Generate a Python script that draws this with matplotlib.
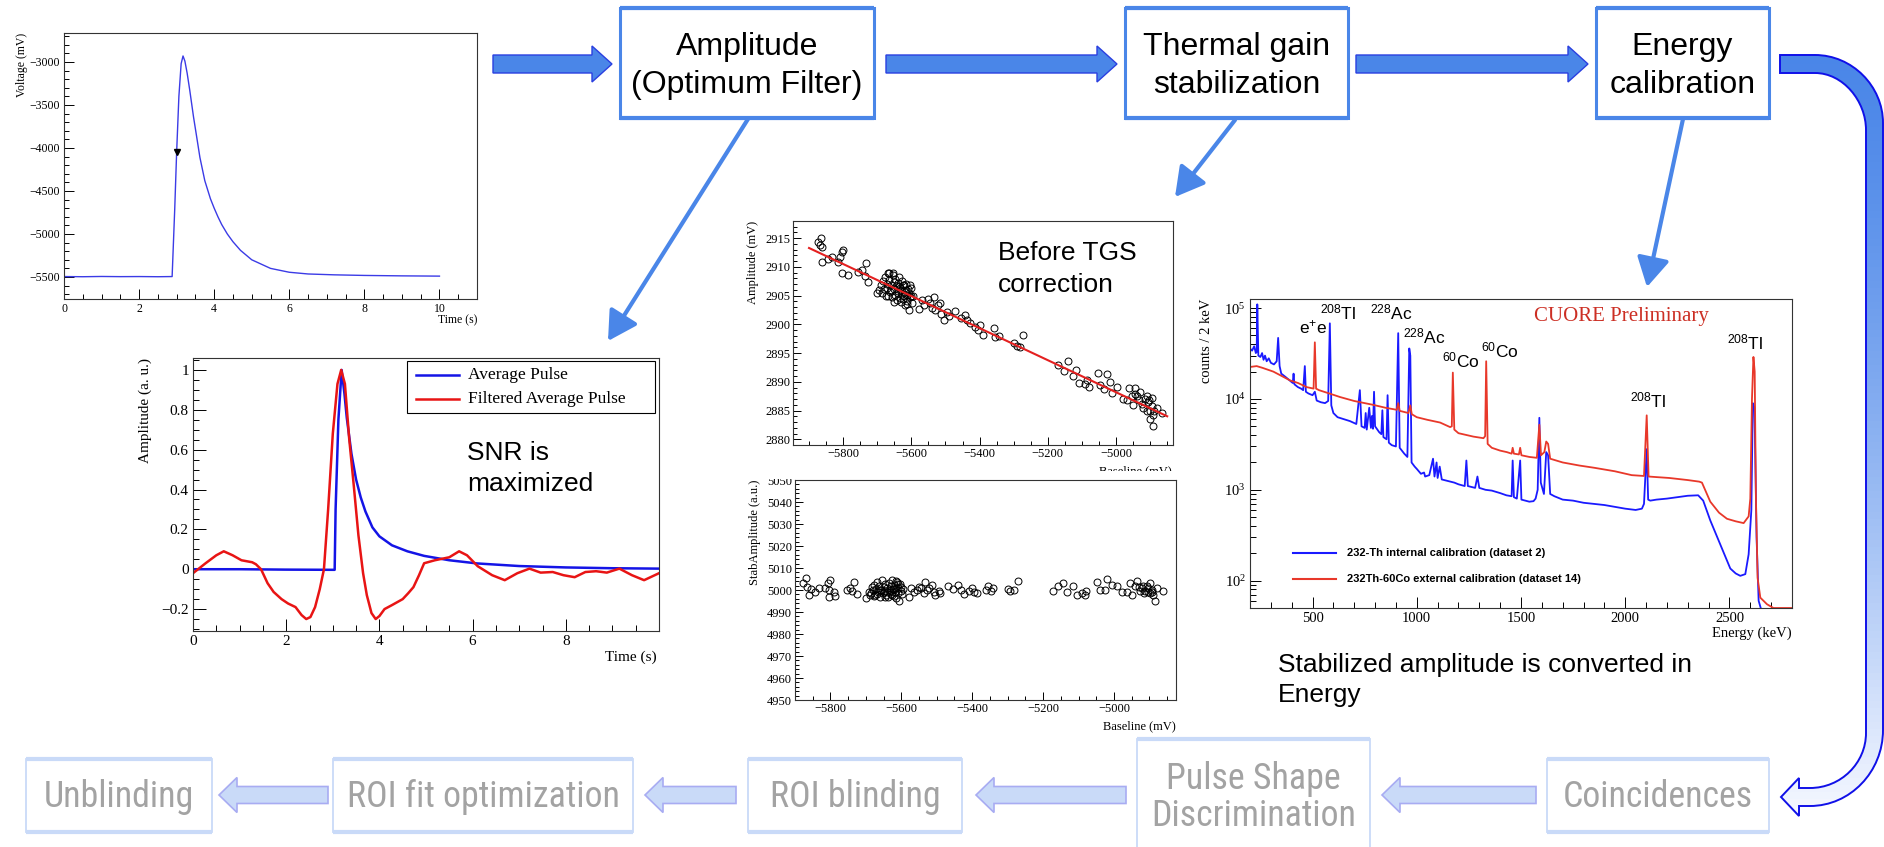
import numpy as np
import matplotlib
matplotlib.use("Agg")
import matplotlib.pyplot as plt
from matplotlib import font_manager
from matplotlib.font_manager import FontProperties
from matplotlib.textpath import TextPath
from matplotlib.patches import Rectangle, Polygon, PathPatch
from matplotlib.path import Path
from matplotlib.ticker import MultipleLocator, FuncFormatter, NullFormatter, LogLocator

# ---------------- data ----------------
top_steps = ["Amplitude\n(Optimum Filter)", "Thermal gain\nstabilization", "Energy\ncalibration"]
bottom_steps = ["Unblinding", "ROI fit optimization", "ROI blinding",
                "Pulse Shape\nDiscrimination", "Coincidences"]

# raw pulse (top left)
pulse_t = [0, 0.5, 1, 1.5, 2, 2.5, 2.88, 2.95, 3.0, 3.06, 3.12, 3.17, 3.22, 3.28, 3.35, 3.45,
           3.53, 3.62, 3.75, 3.9, 4.0, 4.1, 4.2, 4.35, 4.5, 4.7, 5.0, 5.5, 6.0, 6.5, 7.2, 8.0,
           9.0, 10.0]
pulse_v = [-5495, -5497, -5494, -5496, -5495, -5497, -5495, -4700, -4050, -3400, -3020, -2930,
           -2990, -3130, -3330, -3640, -3860, -4110, -4380, -4590, -4700, -4800, -4890, -5000,
           -5090, -5190, -5300, -5400, -5445, -5465, -5475, -5482, -5487, -5490]
trigger_t = [3.0]
trigger_v = [-4050]

# average pulse and filtered average pulse
avg_t = [0, 1, 2, 3.04, 3.06, 3.12, 3.19, 3.25, 3.3, 3.4, 3.5, 3.6, 3.7, 3.85, 4.0, 4.27,
         4.6, 4.96, 5.5, 6.1, 7.0, 8.0, 9.0, 10.0]
avg_a = [0, 0, -0.002, -0.003, 0.3, 0.75, 1.0, 0.88, 0.76, 0.58, 0.45, 0.36, 0.29, 0.21,
         0.165, 0.12, 0.09, 0.067, 0.045, 0.029, 0.016, 0.009, 0.005, 0.003]
filt_t = [0, 0.27, 0.5, 0.66, 0.85, 1.04, 1.27, 1.35, 1.46, 1.6, 1.73, 1.9, 2.04, 2.2, 2.33,
          2.43, 2.52, 2.62, 2.72, 2.81, 2.9, 3.0, 3.1, 3.18, 3.26, 3.35, 3.45, 3.55, 3.65,
          3.73, 3.83, 3.92, 4.0, 4.11, 4.27, 4.5, 4.62, 4.73, 4.85, 4.96, 5.19, 5.5, 5.71,
          5.88, 6.11, 6.42, 6.69, 6.96, 7.22, 7.46, 7.72, 7.95, 8.19, 8.42, 8.65, 8.88,
          9.15, 9.42, 9.68, 10.0]
filt_a = [-0.02, 0.03, 0.07, 0.09, 0.07, 0.045, 0.035, 0.025, 0.0, -0.07, -0.114, -0.15,
          -0.172, -0.19, -0.23, -0.25, -0.24, -0.19, -0.1, 0.0, 0.3, 0.68, 0.93, 1.0, 0.93,
          0.66, 0.42, 0.17, -0.02, -0.13, -0.22, -0.25, -0.235, -0.2, -0.18, -0.15, -0.12,
          -0.09, -0.03, 0.03, 0.045, 0.06, 0.09, 0.07, 0.015, -0.03, -0.055, -0.02, 0.003,
          -0.017, -0.014, -0.03, -0.04, -0.014, -0.01, -0.017, 0.003, -0.03, -0.055, -0.02]

# amplitude vs baseline before TGS
tgs_base = [-5875, -5869, -5864, -5862, -5861, -5843, -5833, -5814, -5809, -5804, -5799, -5804,
            -5786, -5755, -5745, -5737, -5733, -5726, -5701,
            -5695, -5690, -5686, -5683, -5680, -5677, -5675, -5672, -5670, -5667, -5665, -5662,
            -5660, -5657, -5655, -5652, -5650, -5648, -5645, -5643, -5640, -5638, -5636, -5634,
            -5632, -5630, -5628, -5626, -5624, -5622, -5620, -5618, -5616, -5614, -5612, -5610,
            -5608, -5606, -5604, -5602, -5600, -5597, -5594, -5640, -5630, -5622, -5615, -5660,
            -5648, -5635, -5625, -5612, -5605, -5668, -5652, -5669, -5654,
            -5579, -5569, -5562, -5552, -5545, -5535, -5540, -5530, -5521, -5516, -5513, -5503,
            -5496, -5491, -5472, -5454, -5442, -5438, -5428, -5413, -5405, -5399, -5389, -5359,
            -5355, -5343, -5298, -5291, -5281, -5272,
            -5169, -5154, -5140, -5127, -5117, -5108, -5091, -5084, -5078, -5052, -5047, -5035,
            -5026, -5018, -5013, -4998, -4980, -4969, -4961, -4954, -4951, -4944, -4938, -4932,
            -4925, -4920, -4910, -4905, -4900, -4900, -4896, -4891, -4889, -4881, -4866, -4915,
            -4908, -4902, -4895, -4893, -4930, -4945]
tgs_amp = [2914.4, 2913.8, 2915.1, 2913.4, 2910.9, 2911.3, 2911.8, 2910.9, 2911.8, 2912.6,
           2912.9, 2909.0, 2908.6, 2909.2, 2909.5, 2908.4, 2910.7, 2907.3, 2905.4,
           2906.0, 2906.8, 2905.4, 2907.6, 2906.2, 2908.2, 2905.0, 2907.1, 2906.4, 2909.0,
           2907.8, 2905.6, 2906.9, 2904.8, 2908.6, 2906.1, 2907.4, 2905.2, 2906.6, 2904.3,
           2907.2, 2905.8, 2908.2, 2904.6, 2906.3, 2903.9, 2907.6, 2905.3, 2904.5, 2906.8,
           2903.4, 2905.7, 2907.0, 2904.1, 2905.1, 2906.2, 2902.5, 2905.4, 2904.7, 2906.4,
           2905.0, 2903.8, 2904.9, 2905.4, 2905.9, 2905.0, 2906.0, 2905.9, 2907.9, 2906.6,
           2906.8, 2903.6, 2906.9, 2904.9, 2903.9, 2909.0, 2909.0,
           2902.6, 2904.3, 2903.4, 2904.5, 2903.7, 2904.8, 2902.8, 2902.5, 2903.4, 2903.8,
           2901.8, 2900.8, 2902.2, 2901.4, 2902.4, 2901.1, 2901.7, 2900.8, 2900.2, 2899.6,
           2899.1, 2899.9, 2898.2, 2899.3, 2897.8, 2898.0, 2896.7, 2896.2, 2896.1, 2898.2,
           2893.0, 2891.8, 2893.7, 2891.0, 2892.1, 2889.8, 2889.7, 2890.3, 2889.1, 2891.6,
           2889.5, 2888.8, 2891.4, 2889.9, 2888.1, 2889.1, 2887.0, 2886.9, 2889.0, 2887.5,
           2885.9, 2889.0, 2887.6, 2886.9, 2886.1, 2885.5, 2887.5, 2886.4, 2884.9, 2883.5,
           2885.8, 2882.3, 2884.9, 2885.5, 2884.5, 2887.0, 2885.0, 2886.8, 2887.2, 2884.2,
           2888.2, 2887.8]
fit_base = [-5900, -4850]
fit_amp = [2913.3, 2884.0]

# stabilized amplitude vs baseline
stab_base = [-5878, -5868, -5866, -5861, -5856, -5844, -5833, -5814, -5807, -5800, -5805, -5803,
             -5791, -5788, -5753, -5746, -5739, -5734, -5725, -5701, -5692, -5687,
             -5685, -5682, -5679, -5676, -5674, -5671, -5668, -5665, -5662, -5660, -5657, -5655,
             -5652, -5650, -5647, -5645, -5642, -5640, -5637, -5635, -5632, -5630, -5628, -5626,
             -5624, -5622, -5620, -5618, -5616, -5614, -5612, -5610, -5608, -5606, -5604, -5602,
             -5600, -5597, -5594, -5670, -5660, -5650, -5640, -5630, -5620, -5610, -5645, -5625,
             -5678, -5615,
             -5579, -5572, -5565, -5556, -5551, -5544, -5537, -5532, -5528, -5523, -5514, -5509,
             -5504, -5495, -5490, -5468, -5453, -5440, -5431, -5424, -5410, -5401, -5396, -5387,
             -5361, -5356, -5346, -5340, -5300, -5293, -5281, -5270,
             -5171, -5157, -5143, -5132, -5116, -5105, -5091, -5079, -5082, -5049, -5039, -5025,
             -5019, -5006, -4992, -4978, -4964, -4955, -4950, -4941, -4936, -4929, -4922, -4917,
             -4908, -4903, -4899, -4894, -4889, -4894, -4885, -4880, -4861, -4912, -4905, -4898,
             -4915, -4926]
stab_amp = [5003.0, 5005.3, 5001.5, 4997.8, 5000.5, 4999.0, 5000.8, 5001.1, 5003.0, 5004.5,
            5000.0, 4997.0, 4999.3, 4997.3, 5000.0, 5000.8, 4999.6, 5003.8, 4998.1, 4996.3,
            4999.0, 4997.8,
            4998.5, 5001.2, 4999.8, 5002.4, 4997.6, 5000.6, 5003.8, 4999.2, 5001.8, 4997.0,
            5000.2, 5004.5, 4998.6, 5001.4, 4999.6, 5002.8, 4997.9, 5000.8, 4996.8, 5003.2,
            4999.3, 5001.7, 4998.1, 5004.6, 5000.3, 4997.2, 5002.1, 4999.0, 5001.0, 4996.4,
            5003.6, 4998.8, 5000.9, 4995.2, 5002.6, 4999.5, 5001.5, 4998.2, 5000.4, 4998.0,
            5000.0, 4998.9, 4999.0, 4999.9, 5000.6, 5002.8, 4996.6, 4997.9, 4997.2, 5004.2,
            4997.0, 5000.8, 4999.0, 5000.0, 5001.5, 5000.8, 4998.5, 5003.5, 5000.0, 5000.8,
            5002.3, 4999.3, 4997.8, 4999.6, 4998.5, 5002.0, 5000.5, 5002.3, 5000.0, 4998.1,
            4999.6, 5000.8, 4999.0, 4998.5, 5000.0, 5002.0, 4999.6, 5000.8, 5000.5, 4999.6,
            5000.0, 5004.1,
            4999.7, 5001.7, 5003.2, 4999.1, 5001.7, 4997.9, 4998.7, 4999.7, 4997.9, 5003.6,
            5000.2, 5000.2, 5005.1, 5002.4, 5001.7, 4999.1, 4999.1, 5003.2, 4997.9, 5001.7,
            5003.9, 5001.2, 5000.9, 5001.7, 5002.0, 4999.1, 5003.2, 5000.2, 4997.9, 4999.1,
            4995.2, 5000.9, 4999.7, 4999.5, 5001.0, 4998.5, 4998.8, 4999.6]

# calibration spectra (counts / 2 keV)
blue_e = [200, 210, 220, 228, 232, 235, 240, 250, 258, 265, 272, 280, 290, 300, 315, 328, 335,
          342, 350, 370, 390, 405, 409, 413, 430, 445, 455, 463, 468, 480, 500, 511, 520, 540,
          560, 575, 583, 590, 600, 620, 650, 680, 710, 727, 735, 750, 755, 760, 772, 780, 785,
          790, 795, 800, 820, 830, 835, 840, 855, 860, 866, 880, 900, 911, 918, 940, 955, 964,
          969, 975, 990, 1000, 1020, 1035, 1040, 1060, 1078, 1085, 1095, 1100, 1110, 1120,
          1150, 1180, 1200, 1230, 1238, 1245, 1280, 1291, 1300, 1330, 1360, 1400, 1430, 1455,
          1460, 1466, 1480, 1496, 1502, 1520, 1540, 1560, 1570, 1580, 1588, 1595, 1610, 1621,
          1630, 1640, 1660, 1700, 1750, 1800, 1850, 1900, 1950, 2000, 2050, 2080, 2090, 2103,
          2110, 2120, 2150, 2200, 2250, 2300, 2350, 2374, 2408, 2456, 2504, 2530, 2552, 2576,
          2592, 2605, 2612, 2620, 2630, 2640, 2650]
blue_c = [3.6e4, 3.4e4, 3.8e4, 3.2e4, 3.3e4, 1.1e5, 3.0e4, 2.9e4, 3.2e4, 2.7e4, 3.0e4, 2.6e4,
          2.8e4, 2.5e4, 2.4e4, 2.6e4, 4.7e4, 2.3e4, 1.9e4, 1.75e4, 1.6e4, 1.5e4, 1.9e4, 1.45e4,
          1.35e4, 1.3e4, 1.25e4, 2.3e4, 1.2e4, 1.15e4, 1.1e4, 1.2e4, 9.6e3, 9.2e3, 9.0e3, 9.5e3,
          6.8e4, 8.5e3, 7.0e3, 6.3e3, 6.0e3, 5.7e3, 5.3e3, 1.25e4, 5.0e3, 4.8e3, 7.0e3, 4.6e3,
          8.0e3, 4.8e3, 6.5e3, 4.7e3, 1.2e4, 5.0e3, 4.3e3, 4.1e3, 7.5e3, 3.8e3, 3.6e3, 1.1e4,
          3.3e3, 3.1e3, 3.0e3, 5.3e4, 2.9e3, 2.5e3, 2.3e3, 3.6e4, 3.0e4, 2.0e3, 1.8e3, 1.7e3,
          1.5e3, 1.55e3, 1.4e3, 1.45e3, 2.2e3, 1.4e3, 2.0e3, 1.35e3, 1.8e3, 1.3e3, 1.25e3,
          1.2e3, 1.15e3, 1.1e3, 2.1e3, 1.1e3, 1.05e3, 1.4e3, 1.05e3, 1.0e3, 980, 920, 870, 850,
          2.1e3, 830, 800, 2.1e3, 780, 760, 740, 750, 800, 1.0e3, 6.2e3, 1.2e3, 900, 2.6e3,
          2.4e3, 900, 850, 780, 760, 720, 700, 680, 650, 620, 600, 620, 700, 2.8e3, 780, 760,
          780, 800, 830, 860, 870, 760, 460, 250, 136, 120, 113, 118, 195, 600, 9.0e3, 8.0e3,
          300, 60, 50]
red_e = [200, 232, 260, 312, 350, 392, 430, 472, 505, 511, 517, 531, 580, 632, 700, 750, 792,
         850, 904, 911, 918, 960, 969, 976, 1000, 1050, 1112, 1160, 1168, 1173, 1180, 1200,
         1272, 1320, 1328, 1333, 1340, 1360, 1400, 1432, 1455, 1460, 1466, 1490, 1496, 1502,
         1540, 1576, 1588, 1596, 1612, 1621, 1630, 1640, 1700, 1780, 1850, 1950, 2031, 2090,
         2103, 2112, 2150, 2211, 2300, 2355, 2368, 2408, 2450, 2488, 2530, 2568, 2592, 2600,
         2608, 2615, 2621, 2627, 2635, 2648, 2680, 2711, 2800]
red_c = [2.25e4, 2.3e4, 2.2e4, 2.0e4, 1.8e4, 1.6e4, 1.5e4, 1.35e4, 1.3e4, 4.2e4, 1.3e4, 1.25e4,
         1.15e4, 1.05e4, 9.5e3, 9.0e3, 8.6e3, 8.0e3, 7.6e3, 9.0e3, 7.4e3, 7.0e3, 8.5e3, 6.8e3,
         6.3e3, 5.9e3, 5.5e3, 4.9e3, 5.0e3, 1.95e4, 4.6e3, 4.2e3, 3.85e3, 3.7e3, 3.9e3, 2.6e4,
         3.2e3, 2.9e3, 2.7e3, 2.6e3, 2.5e3, 2.9e3, 2.5e3, 2.45e3, 2.9e3, 2.4e3, 2.3e3, 2.25e3,
         5.2e3, 2.4e3, 2.6e3, 3.4e3, 3.2e3, 2.2e3, 2.0e3, 1.85e3, 1.75e3, 1.6e3, 1.45e3,
         1.42e3, 6.6e3, 1.4e3, 1.38e3, 1.35e3, 1.28e3, 1.23e3, 1.2e3, 740, 560, 480, 450, 430,
         510, 800, 1.0e4, 2.9e4, 2.0e4, 800, 107, 65, 55, 50, 50]

peak_labels = [r"e$\mathregular{^{+}}$e", r"$\mathregular{^{208}}$Tl", r"$\mathregular{^{228}}$Ac",
               r"$\mathregular{^{228}}$Ac", r"$\mathregular{^{60}}$Co", r"$\mathregular{^{60}}$Co",
               r"$\mathregular{^{208}}$Tl", r"$\mathregular{^{208}}$Tl"]

# ---------------- fonts ----------------
W, H = 1884, 847
SANS = ["Liberation Sans", "DejaVu Sans"]
SERIF = ["Liberation Serif", "DejaVu Serif"]
plt.rcParams["font.family"] = SERIF


def find_narrow():
    """look for a condensed sans face (the grey labels use a narrow font)"""
    named = ["Liberation Sans Narrow", "Arial Narrow", "Roboto Condensed", "Open Sans Condensed"]
    have = {f.name for f in font_manager.fontManager.ttflist}
    for n in named:
        if n in have:
            return n, "normal"
    prefer = ["Liberation Sans", "Noto Sans", "Roboto", "Open Sans", "DejaVu Sans"]
    cond = {}
    for f in font_manager.fontManager.ttflist:
        st = f.stretch
        narrow = st in ("condensed", "semi-condensed", "extra-condensed") or \
            (isinstance(st, int) and st < 500)
        if narrow and f.style == "normal" and f.weight in (400, "normal", "regular"):
            cond.setdefault(f.name, st)
    for n in prefer:
        if n in cond:
            return n, cond[n]
    return None, None


def fit_size(family, stretch, text, target_px, max_pt):
    prop = FontProperties(family=family, stretch=stretch)
    w = TextPath((0, 0), text, size=10, prop=prop).get_extents().width
    return min(max_pt, 10 * target_px / (w * 100 / 72))


nf, nst = find_narrow()
if nf is None:
    NARROW = dict(family=SANS)
    nsize = fit_size("Liberation Sans", "normal", "ROI fit optimization", 268, 29)
else:
    NARROW = dict(family=[nf, "DejaVu Sans"], fontstretch=nst)
    nsize = fit_size(nf, nst, "ROI fit optimization", 268, 29)

BLUE = "#4a86e8"
PALE = "#c9daf8"

fig = plt.figure(figsize=(W / 100, H / 100), dpi=100)
bg = fig.add_axes([0, 0, 1, 1])
bg.set_xlim(0, W)
bg.set_ylim(H, 0)
bg.set_autoscale_on(False)
bg.axis("off")


def place(l, t, r, b):
    return fig.add_axes([l / W, 1 - b / H, (r - l) / W, (b - t) / H])


def ftext(x, y, s, **kw):
    return fig.text(x / W, 1 - y / H, s, **kw)


def minus(v, p):
    return f"{v:g}".replace("-", "\u2212")


def root_axes(ax, fs, major=6, minor=3, pad=3.0):
    ax.tick_params(which="both", direction="in", top=False, right=False,
                   labelsize=fs, width=0.7, pad=pad)
    ax.tick_params(which="major", length=major)
    ax.tick_params(which="minor", length=minor)
    for s in ax.spines.values():
        s.set_linewidth(0.8)
        s.set_color("#333333")


def block_arrow(x_tail, x_tip, yc, shaft, head, hlen, fc, ec, lw):
    d = 1 if x_tip > x_tail else -1
    xb = x_tip - d * hlen
    pts = [(x_tail, yc - shaft / 2), (xb, yc - shaft / 2), (xb, yc - head / 2), (x_tip, yc),
           (xb, yc + head / 2), (xb, yc + shaft / 2), (x_tail, yc + shaft / 2)]
    bg.add_patch(Polygon(pts, closed=True, fc=fc, ec=ec, lw=lw, zorder=3))


def box(l, t, r, b, color, side_lw, tb_lw):
    bg.add_patch(Rectangle((l, t), r - l, b - t, fc="white", ec=color, lw=side_lw, zorder=2))
    bg.plot([l, r], [t, t], color=color, lw=tb_lw, solid_capstyle="butt", zorder=2)
    bg.plot([l, r], [b, b], color=color, lw=tb_lw, solid_capstyle="butt", zorder=2)


# ---------------- flow chart ----------------
top_boxes = [(620, 874), (1125, 1348), (1596, 1769)]
for (l, r), label in zip(top_boxes, top_steps):
    box(l, 8, r, 118, BLUE, 2.2, 3.0)
    for line, yb in zip(label.split("\n"), [55, 93]):
        bg.text((l + r) / 2, yb, line, ha="center", va="baseline", fontsize=23,
                family=SANS, color="black", zorder=4)

for tail, tip in [(493, 612), (886, 1117), (1356, 1588)]:
    block_arrow(tail, tip, 64, 18, 36, 20, BLUE, "#2a3fe0", 1.0)

bottom_boxes = [(26, 212, 759, 832), (333, 633, 759, 832), (748, 962, 759, 832),
                (1137, 1370, 739, 852), (1547, 1769, 759, 832)]
for (l, r, t, b), label in zip(bottom_boxes, bottom_steps):
    box(l, t, r, b, PALE, 1.3, 3.0)
    lines = label.split("\n")
    ys = [807] if len(lines) == 1 else [789, 826]
    for line, yb in zip(lines, ys):
        bg.text((l + r) / 2, yb, line, ha="center", va="baseline", fontsize=nsize,
                color="#a3a3a3", zorder=4, **NARROW)

for tail, tip in [(328, 219), (736, 645), (1126, 976), (1536, 1382)]:
    block_arrow(tail, tip, 795, 17, 35, 18, PALE, "#a8acf2", 1.2)

# thin diagonal arrows
for start, tip in [((748, 119), (608, 341)), ((1235, 120), (1175, 197)), ((1683, 119), (1647, 287))]:
    bg.annotate("", xy=tip, xytext=start,
                arrowprops=dict(arrowstyle="-|>,head_length=0.8,head_width=0.45",
                                color=BLUE, lw=3, shrinkA=0, shrinkB=0, mutation_scale=22),
                zorder=3)

# big U-turn arrow on the right, blue fading to white
verts = [(1780, 55), (1815, 55), (1852, 55), (1883, 86), (1883, 123), (1883, 730),
         (1883, 772), (1850, 806), (1810, 806), (1799, 806), (1799, 816), (1781, 797),
         (1799, 778), (1799, 788), (1810, 788), (1841, 788), (1866, 763), (1866, 733),
         (1866, 130), (1866, 101), (1843, 73), (1815, 73), (1780, 73), (1780, 55)]
codes = [Path.MOVETO, Path.LINETO, Path.CURVE4, Path.CURVE4, Path.CURVE4, Path.LINETO,
         Path.CURVE4, Path.CURVE4, Path.CURVE4, Path.LINETO, Path.LINETO, Path.LINETO,
         Path.LINETO, Path.LINETO, Path.LINETO, Path.CURVE4, Path.CURVE4, Path.CURVE4,
         Path.LINETO, Path.CURVE4, Path.CURVE4, Path.CURVE4, Path.LINETO, Path.CLOSEPOLY]
uturn = PathPatch(Path(verts, codes), fc="none", ec="#1010e8", lw=1.4, zorder=4)
bg.add_patch(uturn)
top_rgb = np.array(matplotlib.colors.to_rgb(BLUE))
bot_rgb = np.array(matplotlib.colors.to_rgb("#f6f8ff"))
y0, y1, nband = 50, 820, 110
edges = np.linspace(y0, y1, nband + 1)
for k in range(nband):
    f = (k / (nband - 1)) ** 1.4
    col = top_rgb * (1 - f) + bot_rgb * f
    strip = Rectangle((1765, edges[k]), 130, edges[k + 1] - edges[k] + 0.6, fc=col,
                      ec="none", zorder=3)
    bg.add_patch(strip)
    strip.set_clip_path(uturn)

# ---------------- raw pulse ----------------
ax1 = place(64, 33, 477, 299)
ax1.plot(pulse_t, pulse_v, color="#3b3be6", lw=1.0)
ax1.plot(trigger_t, trigger_v, marker="v", color="black", ms=4, ls="none")
ax1.set_xlim(0, 11)
ax1.set_ylim(-5756, -2663)
ax1.xaxis.set_major_locator(MultipleLocator(2))
ax1.xaxis.set_minor_locator(MultipleLocator(0.5))
ax1.yaxis.set_major_locator(MultipleLocator(500))
ax1.yaxis.set_minor_locator(MultipleLocator(100))
ax1.xaxis.set_major_formatter(FuncFormatter(minus))
ax1.yaxis.set_major_formatter(FuncFormatter(minus))
root_axes(ax1, 8.5, 7, 3.5)
ftext(22, 33, "Voltage (mV)", rotation=90, ha="center", va="top", fontsize=8.5)
ftext(477, 320, "Time (s)", ha="right", va="center", fontsize=8.5)

# ---------------- optimum filter ----------------
ax2 = place(193, 358, 659, 631)
ax2.plot(avg_t, avg_a, color="#1414e6", lw=1.8)
ax2.plot(filt_t, filt_a, color="#e81414", lw=1.8)
ax2.set_xlim(0, 10)
ax2.set_ylim(-0.31, 1.06)
ax2.set_xticks([0, 2, 4, 6, 8])
ax2.xaxis.set_minor_locator(MultipleLocator(0.5))
ax2.yaxis.set_major_locator(MultipleLocator(0.2))
ax2.yaxis.set_minor_locator(MultipleLocator(0.05))
ax2.xaxis.set_major_formatter(FuncFormatter(minus))
ax2.yaxis.set_major_formatter(FuncFormatter(minus))
root_axes(ax2, 11, 9, 4.5)
ftext(145, 358, "Amplitude (a. u.)", rotation=90, ha="center", va="top", fontsize=11)
ftext(657, 657, "Time (s)", ha="right", va="center", fontsize=11)
fig.patches.append(Rectangle((407 / W, 1 - 413 / H), 248 / W, 52 / H, transform=fig.transFigure,
                             fc="white", ec="black", lw=0.8, zorder=2))
for yl, name, col in [(375, "Average Pulse", "#1414e6"), (399, "Filtered Average Pulse", "#e81414")]:
    fig.lines.append(plt.Line2D([416 / W, 459 / W], [1 - yl / H, 1 - yl / H],
                                transform=fig.transFigure, color=col, lw=1.8, zorder=3))
    ftext(468, yl, name, ha="left", va="center", fontsize=12.5)
ftext(467, 460, "SNR is", ha="left", va="baseline", fontsize=19, family=SANS)
ftext(467, 491, "maximized", ha="left", va="baseline", fontsize=19, family=SANS)

# ---------------- TGS ----------------
ax3 = place(793, 221, 1173, 445)
ax3.plot(tgs_base, tgs_amp, ls="none", marker="o", mfc="none", mec="black", ms=5, mew=0.7)
ax3.plot(fit_base, fit_amp, color="#e42020", lw=1.5)
ax3.set_xlim(-5947, -4833)
ax3.set_ylim(2879, 2918)
ax3.xaxis.set_major_locator(MultipleLocator(200))
ax3.xaxis.set_minor_locator(MultipleLocator(50))
ax3.yaxis.set_major_locator(MultipleLocator(5))
ax3.yaxis.set_minor_locator(MultipleLocator(1))
ax3.xaxis.set_major_formatter(FuncFormatter(minus))
root_axes(ax3, 9, 6, 3, pad=2.0)
ftext(753, 221, "Amplitude (mV)", rotation=90, ha="center", va="top", fontsize=9)
ftext(1172, 471, "Baseline (mV)", ha="right", va="center", fontsize=9, zorder=1)
fig.patches.append(Rectangle((705 / W, 1 - 479 / H), 475 / W, 8 / H, transform=fig.transFigure,
                             fc="white", ec="none", zorder=2))
ftext(998, 260, "Before TGS", ha="left", va="baseline", fontsize=19, family=SANS)
ftext(998, 292, "correction", ha="left", va="baseline", fontsize=19, family=SANS)

ax4 = place(795, 480, 1176, 700)
ax4.plot(stab_base, stab_amp, ls="none", marker="o", mfc="none", mec="black", ms=5, mew=0.7)
ax4.set_xlim(-5900, -4825)
ax4.set_ylim(4950, 5050)
ax4.xaxis.set_major_locator(MultipleLocator(200))
ax4.xaxis.set_minor_locator(MultipleLocator(50))
ax4.yaxis.set_major_locator(MultipleLocator(10))
ax4.yaxis.set_minor_locator(MultipleLocator(2))
ax4.xaxis.set_major_formatter(FuncFormatter(minus))
root_axes(ax4, 9, 6, 3, pad=2.0)
ftext(755, 480, "StabAmplitude (a.u.)", rotation=90, ha="center", va="top", fontsize=9)
ftext(1176, 726, "Baseline (mV)", ha="right", va="center", fontsize=9)

# ---------------- energy spectrum ----------------
ax5 = place(1250, 299, 1792, 608)
ax5.plot(blue_e, blue_c, color="#1a1aff", lw=1.3)
ax5.plot(red_e, red_c, color="#e8382a", lw=1.3)
ax5.set_yscale("log")
ax5.set_xlim(200, 2800)
ax5.set_ylim(50, 1.26e5)
ax5.xaxis.set_major_locator(MultipleLocator(500))
ax5.xaxis.set_minor_locator(MultipleLocator(100))
ax5.yaxis.set_major_locator(LogLocator(base=10))
ax5.yaxis.set_minor_locator(LogLocator(base=10, subs=np.arange(2, 10)))
ax5.yaxis.set_major_formatter(FuncFormatter(
    lambda v, p: r"$\mathregular{10^{%d}}$" % round(np.log10(v))))
ax5.yaxis.set_minor_formatter(NullFormatter())
root_axes(ax5, 10.5, 8, 4)
ftext(1206, 299, "counts / 2 keV", rotation=90, ha="center", va="top", fontsize=10.5)
ftext(1792, 633, "Energy (keV)", ha="right", va="center", fontsize=10.5)
ftext(1534, 316, "CUORE Preliminary", ha="left", va="center", fontsize=15, color="#cc2f24")

label_pos = [(1299, 333), (1320, 319), (1370, 319), (1403, 343), (1442, 367), (1481, 357),
             (1630, 407), (1727, 349)]
for (x, y), s in zip(label_pos, peak_labels):
    ftext(x, y, s, ha="left", va="baseline", fontsize=12.5, family=SANS)

for yl, name, col in [(553, "232-Th internal calibration (dataset 2)", "#1a1aff"),
                      (579, "232Th-60Co external calibration (dataset 14)", "#e8382a")]:
    fig.lines.append(plt.Line2D([1293 / W, 1336 / W], [1 - yl / H, 1 - yl / H],
                                transform=fig.transFigure, color=col, lw=1.5, zorder=3))
    ftext(1347, yl, name, ha="left", va="center", fontsize=8, family=SANS, fontweight="bold")

ftext(1278, 672, "Stabilized amplitude is converted in", ha="left", va="baseline",
      fontsize=19, family=SANS)
ftext(1278, 702, "Energy", ha="left", va="baseline", fontsize=19, family=SANS)

fig.savefig("out.png", dpi=100)
